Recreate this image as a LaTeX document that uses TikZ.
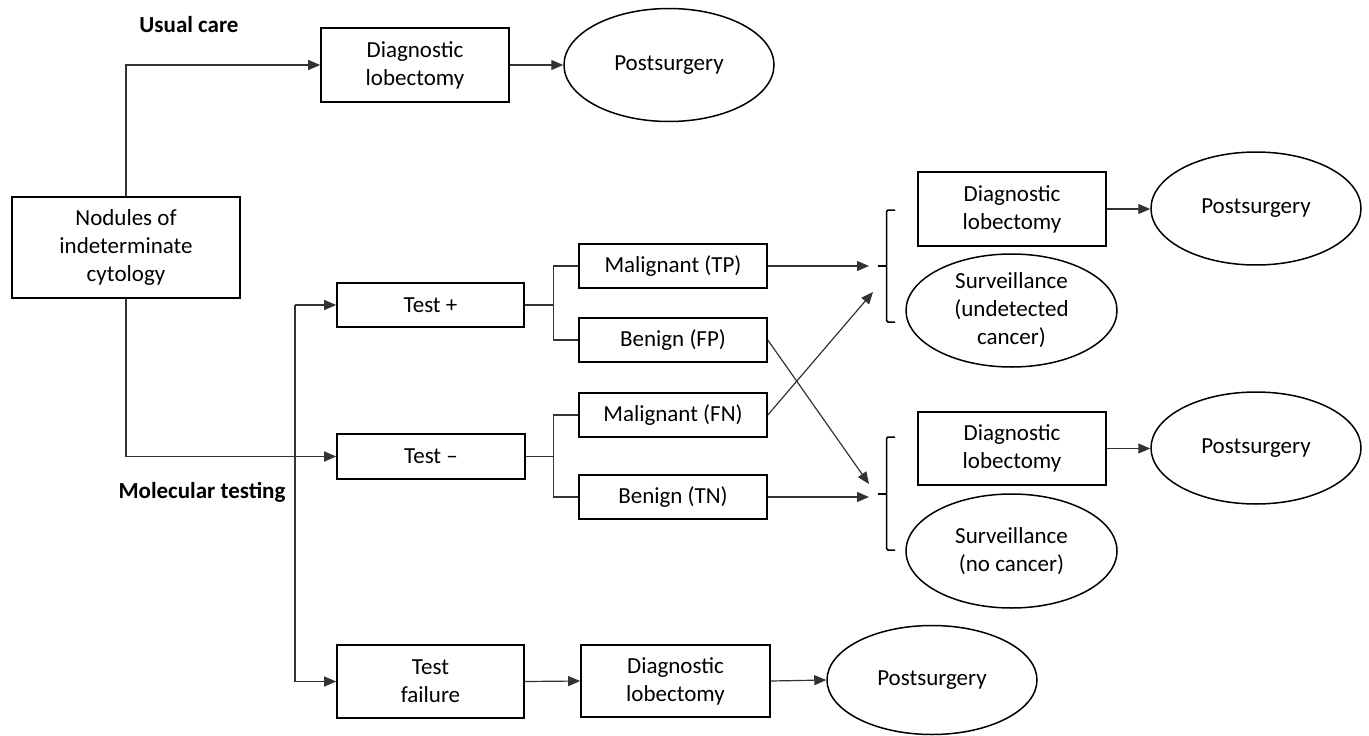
\documentclass[tikz,border=0pt]{standalone}
\usepackage{fontspec}
\setmainfont{Carlito}
\usetikzlibrary{shapes.geometric,arrows.meta}
\begin{document}
\begin{tikzpicture}[x=1pt,y=-1pt,
  every node/.style={font=\fontsize{23}{28}\selectfont, align=center, inner sep=0pt},
  box/.style={draw, line width=1.6pt, minimum width=#1},
  oval/.style={draw, ellipse, line width=1.5pt, minimum width=210pt, minimum height=113pt},
  conn/.style={draw=black!80, line width=1.2pt},
  arr/.style={conn, -{Triangle[length=12pt,width=10pt]}},
  brace/.style={line width=1.5pt, rounded corners=1.5pt},
  lbl/.style={font=\bfseries\fontsize{23}{28}\selectfont}]
\useasboundingbox (0,0) rectangle (1369,736);

% labels
\node[lbl] (usual) at (189,25) {Usual care};
\node[lbl] (molec) at (202,492) {Molecular testing};

% left column
\node[box=228pt, minimum height=101pt] (nod) at (126,247.5) {Nodules of\\indeterminate\\cytology};
\node[box=188pt, minimum height=74pt] (dl0) at (415,65) {Diagnostic\\lobectomy};
\node[oval] (ps0) at (669,65) {Postsurgery};

\node[box=187pt, minimum height=44pt] (tp) at (430.5,305) {Test +};
\node[box=188pt, minimum height=45pt] (tm) at (431,456.5) {Test –};
\node[box=187pt, minimum height=73pt] (tf) at (430.5,681.5) {Test\\failure};

\node[box=189pt, minimum height=72pt] (dl3) at (675.5,681) {Diagnostic\\lobectomy};
\node[oval, minimum height=109pt] (ps3) at (932,680) {Postsurgery};

% middle column
\node[box=188pt, minimum height=44pt] (mtp) at (673,266) {Malignant (TP)};
\node[box=188pt, minimum height=44pt] (bfp) at (673,340) {Benign (FP)};
\node[box=188pt, minimum height=44pt] (mfn) at (673,415) {Malignant (FN)};
\node[box=188pt, minimum height=44pt] (btn) at (673,497) {Benign (TN)};

% right column
\node[box=188pt, minimum height=74pt] (dl1) at (1012,209) {Diagnostic\\lobectomy};
\node[oval] (ps1) at (1256,208.5) {Postsurgery};
\node[oval, minimum width=211pt] (su1) at (1011.5,310.5) {Surveillance\\(undetected\\cancer)};

\node[box=188pt, minimum height=73pt] (dl2) at (1012,448.5) {Diagnostic\\lobectomy};
\node[oval, minimum height=112pt] (ps2) at (1256,448) {Postsurgery};
\node[oval, minimum width=211pt, minimum height=114pt] (su2) at (1011.5,551) {Surveillance\\(no cancer)};

% braces
\draw[brace] (895,210) -- (886.5,210) -- (886.5,322) -- (895,322);
\draw[line width=1.5pt] (886.5,266) -- (878,266);
\draw[brace] (895,437) -- (886.5,437) -- (886.5,550) -- (895,550);
\draw[line width=1.5pt] (886.5,494) -- (878,494);

\coordinate (b1) at (869,266);
\coordinate (b1low) at (873,292);
\coordinate (b2high) at (869,484);
\coordinate (b2) at (869,497);
\coordinate (mol) at (295,305);

% connectors
\draw[arr] (nod.north) |- (dl0.west);
\draw[arr] (dl0.east) -- (ps0.west);
\draw[arr] (nod.south) |- (tm.west);
\draw[conn] (tf.west -| mol) -- (mol);
\draw[arr] (mol) -- (tp.west);
\draw[arr] (tf.west -| mol) -- (tf.west);
\draw[arr] (tf.east) -- (dl3.west);
\draw[arr] (dl3.east) -- (ps3.west);

\draw[conn] (tp.east) -- ++(28.5,0) coordinate (j1);
\draw[conn] (mtp.west) -| (j1) |- (bfp.west);
\draw[conn] (tm.east) -- ++(28,0) coordinate (j2);
\draw[conn] (mfn.west) -| (j2) |- (btn.west);

\draw[arr] (mtp.east) -- (b1);
\draw[arr] (mfn.east) -- (b1low);
\draw[arr] (bfp.east) -- (b2high);
\draw[arr] (btn.east) -- (b2);

\draw[arr] (dl1.east) -- (dl1.east -| ps1.west);
\draw[arr] (dl2.east) -- (dl2.east -| ps2.west);
\end{tikzpicture}
\end{document}
